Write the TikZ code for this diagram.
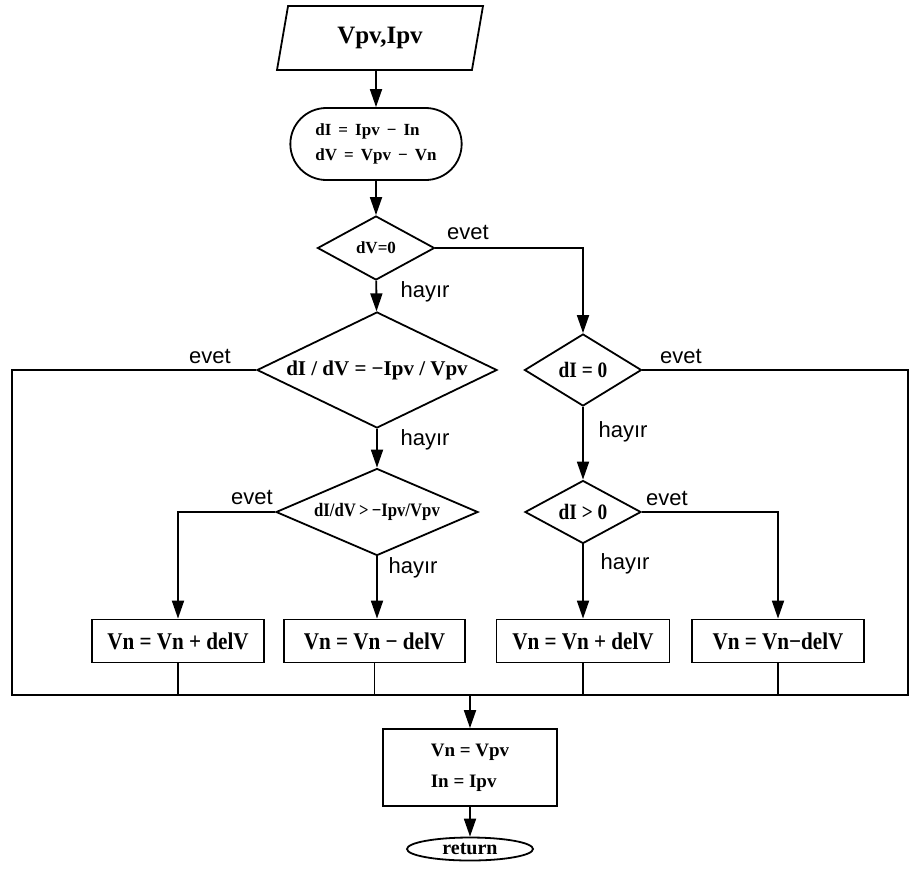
\documentclass[tikz,border=0pt]{standalone}
\usepackage{fontspec}
\setmainfont{Liberation Serif}
\newfontfamily\labelfont{Liberation Sans}
\newfontfamily\condfont[FakeStretch=0.88]{Liberation Serif}
\usetikzlibrary{shapes.geometric,shapes.misc,arrows.meta}

\begin{document}
\begin{tikzpicture}[x=1pt,y=-1pt,
  line width=1.8pt,
  arr/.style={-{Triangle[length=18pt,width=12pt]}},
  box/.style={draw, rectangle, inner sep=0pt, font=\condfont\bfseries\fontsize{24}{26}\selectfont},
  dec/.style={draw, diamond, inner sep=0pt},
  lbl/.style={font=\labelfont\fontsize{22}{24}\selectfont}]
  \useasboundingbox (0,0) rectangle (909,868);

  \node[draw, trapezium, trapezium left angle=63, trapezium right angle=117,
    trapezium stretches body, minimum width=206pt, minimum height=64pt, inner sep=0pt,
    font=\bfseries\fontsize{25}{26}\selectfont] (inp) at (380,38) {Vpv,Ipv};
  \node[draw, rounded rectangle, minimum width=178pt, minimum height=72pt, align=left,
    font=\bfseries\fontsize{17}{25}\selectfont] (dif) at (376,144)
    {dI \,=\, Ipv \,−\, In\\dV \,=\, Vpv \,−\, Vn};

  \node[dec, aspect=1.8, minimum width=117pt, minimum height=64pt,
    font=\bfseries\fontsize{17}{18}\selectfont] (dv) at (376,248) {dV=0};
  \node[dec, aspect=2.07, minimum width=240pt, minimum height=116pt,
    font=\bfseries\fontsize{21}{22}\selectfont] (slope) at (377,370) {dI / dV = −Ipv / Vpv};
  \node[dec, aspect=2.3, minimum width=202pt, minimum height=87pt,
    font=\condfont\bfseries\fontsize{19}{20}\selectfont] (gt) at (377,512) {dI/dV\,>\,−Ipv/Vpv};
  \node[dec, aspect=1.6, minimum width=117pt, minimum height=72pt,
    font=\condfont\bfseries\fontsize{22}{20}\selectfont] (di) at (583,370) {dI = 0};
  \node[dec, aspect=1.8, minimum width=116pt, minimum height=63pt,
    font=\condfont\bfseries\fontsize{22}{20}\selectfont] (dip) at (583,512) {dI > 0};

  \node[box, minimum width=172pt, minimum height=43pt] (b1) at (178,641) {Vn = Vn + delV};
  \node[box, minimum width=181pt, minimum height=43pt] (b2) at (374.5,641) {Vn = Vn − delV};
  \node[box, minimum width=173pt, minimum height=43pt] (b3) at (583,641) {Vn = Vn + delV};
  \node[box, minimum width=172pt, minimum height=43pt] (b4) at (778,641) {Vn = Vn−delV};

  \node[box, minimum width=174pt, minimum height=77pt, align=left,
    font=\bfseries\fontsize{19}{31}\selectfont] (upd) at (470,767.5) {Vn = Vpv\\In = Ipv};
  \node[draw, ellipse, minimum width=126pt, minimum height=23pt, inner sep=0pt,
    font=\bfseries\fontsize{20}{20}\selectfont] (ret) at (470,849) {return};

  \coordinate (busL) at (12,695);
  \coordinate (busR) at (908,695);

  % connectors
  \draw[arr] (dif.north |- inp.south) -- (dif.north);
  \draw[arr] (dif) -- (dv);
  \draw[arr] (dv) -- (slope);
  \draw[arr] (dv.east) -| (di.north);
  \draw (slope.west) -| (busL) -- (busR) |- (di.east);
  \draw[arr] (slope) -- (gt);
  \draw[arr] (gt.west) -| (b1.north);
  \draw[arr] (gt) -- (gt.south |- b2.north);
  \draw[arr] (di) -- (dip);
  \draw[arr] (dip) -- (b3);
  \draw[arr] (dip.east) -| (b4.north);
  \foreach \b in {b1,b2,b3,b4}
    \draw (\b.south) -- (\b.south |- busL);
  \draw[arr] (upd.north |- busL) -- (upd.north);
  \draw[arr] (upd) -- (ret);

  % labels
  \node[lbl] at (468,232) {evet};
  \node[lbl] at (425,292) {hayır};
  \node[lbl] at (210,356) {evet};
  \node[lbl] at (425,440) {hayır};
  \node[lbl] at (252,497) {evet};
  \node[lbl] at (413,568) {hayır};
  \node[lbl] at (681,356) {evet};
  \node[lbl] at (623,432) {hayır};
  \node[lbl] at (667,498) {evet};
  \node[lbl] at (625,564) {hayır};
\end{tikzpicture}
\end{document}
